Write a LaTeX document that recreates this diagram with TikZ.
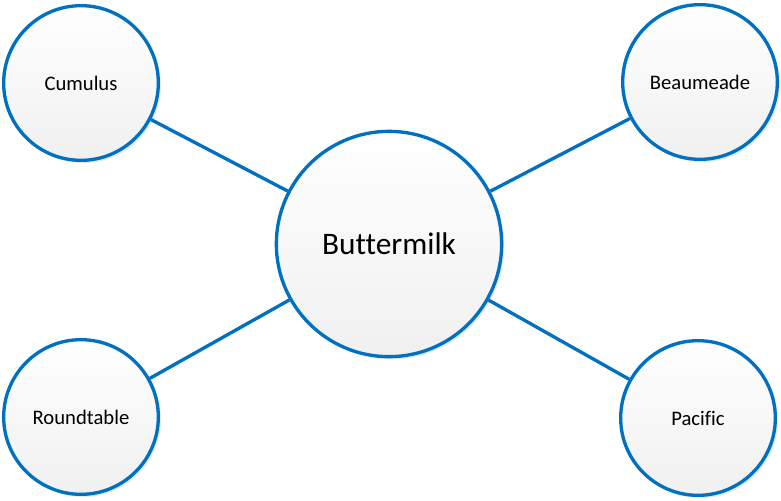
\documentclass[tikz,border=0pt]{standalone}
\usepackage{fontspec}
\setmainfont[Ligatures={NoCommon}]{Carlito}
\usepackage{tikz}
\usetikzlibrary{positioning,shadows}
\definecolor{hubborder}{RGB}{0,112,192}
\definecolor{hubfillbottom}{RGB}{240,240,240}

\begin{document}
\begin{tikzpicture}[
            x=0.75pt, y=-0.75pt,
            hub/.style={
                    circle, draw=hubborder, line width=2.5pt,
                    top color=white, bottom color=hubfillbottom,
                    drop shadow={opacity=0.18, shadow xshift=2pt, shadow yshift=-2pt},
                    align=center, inner sep=0pt
                },
            site/.style={hub, minimum size=116pt, font=\fontsize{15.5}{18}\selectfont},
            center/.style={hub, minimum size=169pt, font=\fontsize{23.5}{28}\selectfont},
            link/.style={draw=hubborder, line width=2.5pt}
            ]

            % ===== Bounding box =====
            \useasboundingbox (0,0) rectangle (781,500);

            % ===== Circle centres =====
            \coordinate (c0) at (389,244);
            \coordinate (c1) at (81,83);
            \coordinate (c2) at (700,82);
            \coordinate (c3) at (81,417);
            \coordinate (c4) at (698,418);

            % ===== Central node =====
            \node[center] (buttermilk) at (c0) {Buttermilk};

            % ===== Outer nodes =====
            \node[site] (cumulus) at (c1) {Cumulus};
            \node[site] (beaumeade) at (c2) {Beaumeade};
            \node[site] (roundtable) at (c3) {Roundtable};
            \node[site] (pacific) at (c4) {Pacific};

            % ===== Connectors =====
            \draw[link] (buttermilk) -- (cumulus);
            \draw[link] (buttermilk) -- (beaumeade);
            \draw[link] (buttermilk) -- (roundtable);
            \draw[link] (buttermilk) -- (pacific);

        \end{tikzpicture}
\end{document}
